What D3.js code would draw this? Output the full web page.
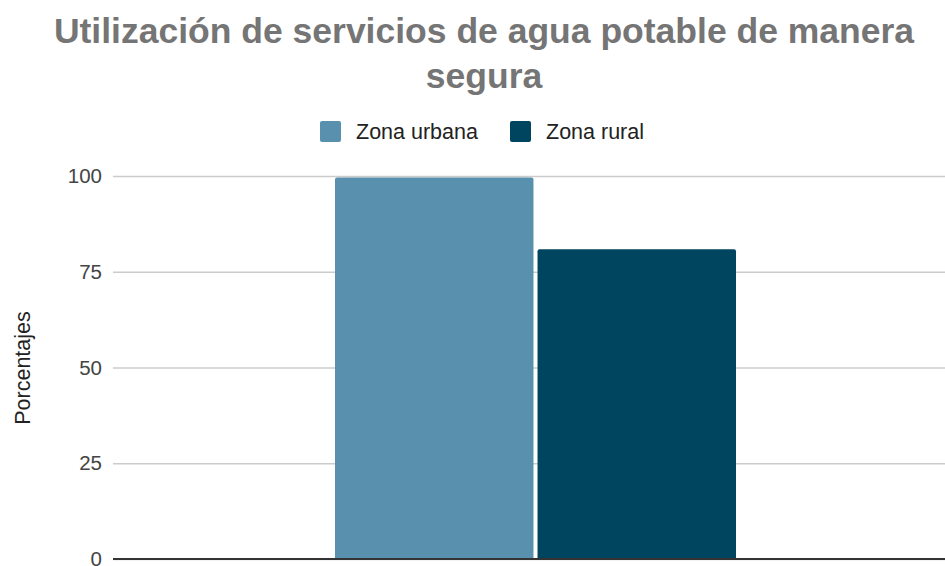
<!DOCTYPE html>
<html>
<head>
<meta charset="utf-8">
<script src="https://cdn.jsdelivr.net/npm/d3@7"></script>
<style>
  body { margin: 0; background: #fff; }
  svg { display: block; font-family: "Liberation Sans", Arial, sans-serif; }
</style>
</head>
<body>
<svg id="chart" width="945" height="566"></svg>
<script>
// data
var categories = ['Agua potable'];
var seriesNames = ['Zona urbana', 'Zona rural'];
var seriesColors = ['#5990ae', '#00455f'];
var urbanValues = [99.6];
var ruralValues = [80.9];
var yTicks = [0, 25, 50, 75, 100];
var titleLines = ['Utilización de servicios de agua potable de manera', 'segura'];
var yLabel = 'Porcentajes';

var svg = d3.select('#chart');

// layout
var plot = { l: 113, r: 958, t: 176, b: 559 };

var x0 = d3.scaleBand()
    .domain(categories)
    .range([plot.l, plot.r])
    .paddingInner(0)
    .paddingOuter(0.5536);

var x1 = d3.scaleBand()
    .domain(seriesNames)
    .range([0, x0.bandwidth()])
    .paddingInner(0.02);

var y = d3.scaleLinear().domain([0, 100]).range([plot.b, plot.t]);

// title
svg.append('text')
    .attr('x', 484)
    .attr('text-anchor', 'middle')
    .attr('fill', '#757575')
    .attr('font-weight', 'bold')
    .attr('font-size', 35.5)
    .selectAll('tspan')
    .data(titleLines)
    .enter()
    .append('tspan')
    .attr('x', 484)
    .attr('y', function (d, i) { return 43 + i * 45; })
    .text(function (d) { return d; });

// legend
var legendX = [320, 510];
var legend = svg.append('g').attr('class', 'legend');
seriesNames.forEach(function (name, i) {
    legend.append('rect')
        .attr('x', legendX[i])
        .attr('y', 121)
        .attr('width', 21)
        .attr('height', 21)
        .attr('rx', 2)
        .attr('fill', seriesColors[i]);
    legend.append('text')
        .attr('x', legendX[i] + 36)
        .attr('y', 138.5)
        .attr('font-size', 21.5)
        .attr('fill', '#222')
        .text(name);
});

// gridlines + tick labels
var yAxis = d3.axisLeft(y)
    .tickValues(yTicks)
    .tickSize(-(plot.r - plot.l))
    .tickPadding(11)
    .tickFormat(d3.format('d'));

var axisG = svg.append('g')
    .attr('transform', 'translate(' + plot.l + ',0)')
    .call(yAxis);
axisG.select('.domain').remove();
axisG.selectAll('.tick line')
    .attr('stroke', '#cccccc')
    .attr('stroke-width', 1.3);
axisG.selectAll('.tick text')
    .attr('font-family', '"Liberation Sans", Arial, sans-serif')
    .attr('font-size', 20.5)
    .attr('fill', '#444');

// y label
svg.append('text')
    .attr('transform', 'translate(30,' + ((plot.t + plot.b) / 2 + 0.5) + ')rotate(-90)')
    .attr('text-anchor', 'middle')
    .attr('font-size', 21.5)
    .attr('fill', '#222')
    .text(yLabel);

// bars
var rows = categories.map(function (c, i) {
    return { cat: c, values: [urbanValues[i], ruralValues[i]] };
});

function topRounded(x, yTop, w, h, r) {
    return 'M' + x + ',' + (yTop + h) +
        'V' + (yTop + r) +
        'Q' + x + ',' + yTop + ' ' + (x + r) + ',' + yTop +
        'H' + (x + w - r) +
        'Q' + (x + w) + ',' + yTop + ' ' + (x + w) + ',' + (yTop + r) +
        'V' + (yTop + h) + 'Z';
}

var groups = svg.selectAll('.group')
    .data(rows)
    .enter()
    .append('g')
    .attr('class', 'group')
    .attr('transform', function (d) { return 'translate(' + x0(d.cat) + ',0)'; });

groups.selectAll('path')
    .data(function (d) {
        return d.values.map(function (v, i) { return { name: seriesNames[i], value: v, color: seriesColors[i] }; });
    })
    .enter()
    .append('path')
    .attr('fill', function (d) { return d.color; })
    .attr('d', function (d) {
        var top = y(d.value);
        return topRounded(x1(d.name), top, x1.bandwidth(), y(0) - top, 2);
    });

// zero line
svg.append('line')
    .attr('x1', plot.l)
    .attr('x2', plot.r)
    .attr('y1', y(0))
    .attr('y2', y(0))
    .attr('stroke', '#333')
    .attr('stroke-width', 2);
</script>
</body>
</html>
